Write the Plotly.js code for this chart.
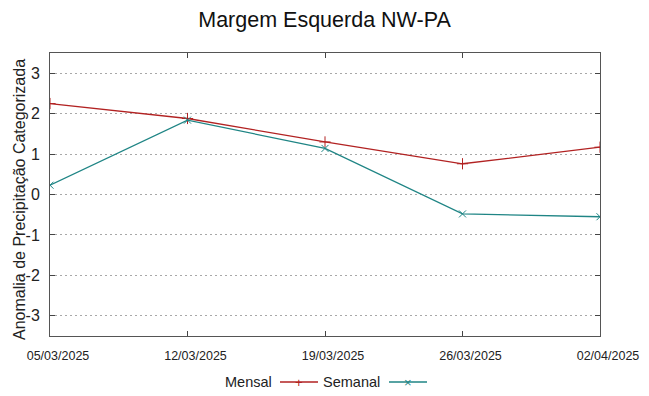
<!DOCTYPE html>
<html>
<head>
<meta charset="utf-8">
<script src="https://cdn.plot.ly/plotly-3.0.1.min.js"></script>
<style>html,body{margin:0;padding:0;background:#fff;}#chart{width:649px;height:396px;}</style>
</head>
<body>
<div id="chart"></div>
<script>
const dates = ["2025-03-05", "2025-03-12", "2025-03-19", "2025-03-26", "2025-04-02"];
const tickLabels = ["05/03/2025", "12/03/2025", "19/03/2025", "26/03/2025", "02/04/2025"];
const mensal = [2.25, 1.88, 1.30, 0.76, 1.17];
const semanal = [0.23, 1.84, 1.14, -0.48, -0.55];
const yTicks = [-3, -2, -1, 0, 1, 2, 3];
const yTickLabels = ["-3", "-2", "-1", "0", "1", "2", "3"];

const redC = "#b22222";
const tealC = "#1f8585";
const font = "Liberation Sans, Arial, sans-serif";
const legY = -(382 - 336) / 283;

const traces = [
  {x: dates, y: mensal, mode: "lines+markers", name: "Mensal", showlegend: false,
   line: {color: redC, width: 1.3},
   marker: {symbol: "cross-thin", size: 8, color: redC, line: {color: redC, width: 1}}},
  {x: dates, y: semanal, mode: "lines+markers", name: "Semanal", showlegend: false,
   line: {color: tealC, width: 1.3},
   marker: {symbol: "x-thin", size: 7, color: tealC, line: {color: tealC, width: 1}}}
];

const layout = {
  width: 649, height: 396,
  margin: {l: 50, r: 49, t: 53, b: 60},
  paper_bgcolor: "#fff", plot_bgcolor: "#fff",
  font: {family: font, color: "#222"},
  title: {text: "Margem Esquerda NW-PA", font: {size: 21.5, family: font, color: "#111"}, x: 0.5, xanchor: "center", y: 0.952, yanchor: "middle"},
  xaxis: {
    type: "date", range: [dates[0], dates[dates.length - 1]],
    tickvals: dates, ticktext: tickLabels,
    ticks: "inside", ticklen: 5, tickcolor: "#444", tickwidth: 1,
    showline: true, linecolor: "#555", linewidth: 1, mirror: "ticks",
    showgrid: false, zeroline: false, ticklabelstandoff: 8, ticklabelshift: 8,
    tickfont: {size: 12.5, family: font, color: "#222"}
  },
  yaxis: {
    range: [-3.5, 3.5], tickvals: yTicks, ticktext: yTickLabels,
    ticks: "inside", ticklen: 5, tickcolor: "#444", tickwidth: 1,
    showline: true, linecolor: "#555", linewidth: 1, mirror: "ticks",
    showgrid: true, gridcolor: "#a8a8a8", griddash: "2px,3px", gridwidth: 1,
    zeroline: false, ticklabelstandoff: 6,
    tickfont: {size: 16, family: font, color: "#222"}
  },
  shapes: [
    {type: "line", xref: "paper", yref: "paper", x0: (280-50)/550, x1: (318-50)/550, y0: legY, y1: legY, line: {color: redC, width: 1.3}},
    {type: "line", xref: "paper", yref: "paper", x0: (389-50)/550, x1: (427-50)/550, y0: legY, y1: legY, line: {color: tealC, width: 1.3}}
  ],
  annotations: [
    {text: "Anomalia de Precipitação Categorizada", textangle: -90, xref: "paper", yref: "paper", x: (19-50)/550, y: (336-200)/283, xanchor: "center", yanchor: "middle", showarrow: false, font: {size: 16, family: font, color: "#222"}},
    {text: "Mensal", xref: "paper", yref: "paper", x: (274-50)/550, y: legY, xanchor: "right", yanchor: "middle", showarrow: false, font: {size: 14.5, family: font, color: "#222"}},
    {text: "Semanal", xref: "paper", yref: "paper", x: (382-50)/550, y: legY, xanchor: "right", yanchor: "middle", showarrow: false, font: {size: 14.5, family: font, color: "#222"}},
    {text: "+", xref: "paper", yref: "paper", x: (299-50)/550, y: legY, xanchor: "center", yanchor: "middle", showarrow: false, font: {size: 13, family: font, color: redC}},
    {text: "×", xref: "paper", yref: "paper", x: (408-50)/550, y: legY, xanchor: "center", yanchor: "middle", showarrow: false, font: {size: 13, family: font, color: tealC}}
  ]
};

Plotly.newPlot("chart", traces, layout, {displayModeBar: false, staticPlot: true});
</script>
</body>
</html>
